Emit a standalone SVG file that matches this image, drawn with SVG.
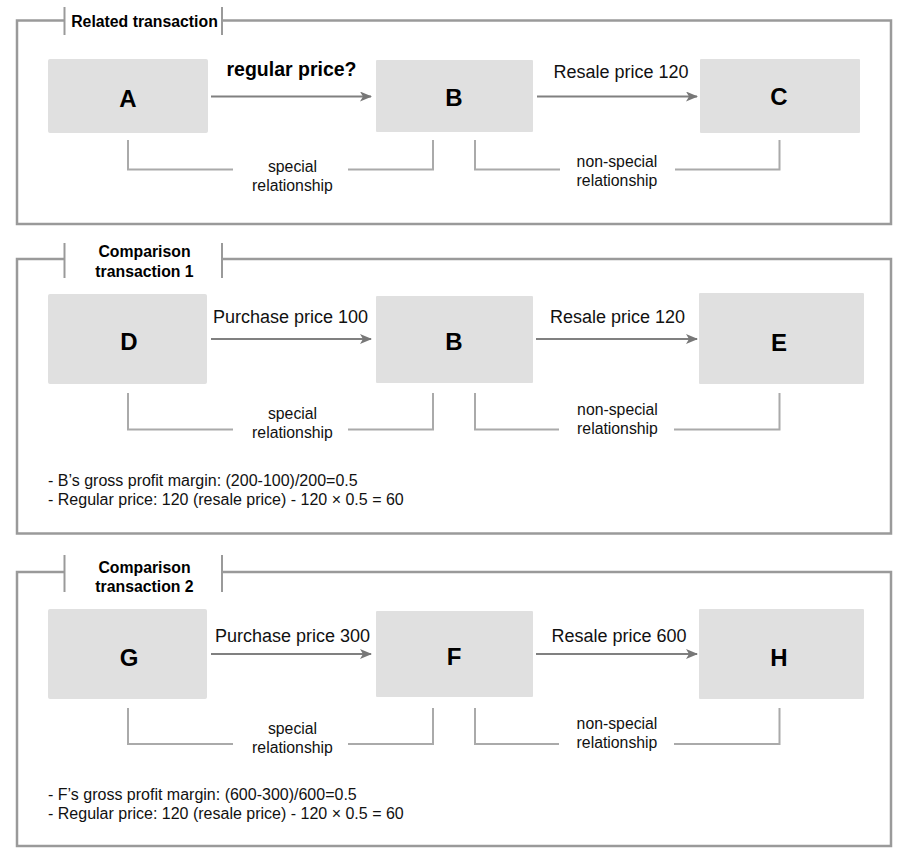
<svg xmlns="http://www.w3.org/2000/svg" width="905" height="855" viewBox="0 0 905 855">
<style>
.frame{fill:none;stroke:#9a9a9a;stroke-width:2.5}
.tick{stroke:#9a9a9a;stroke-width:2}
.box{fill:#e0e0e0}
.lbl{font-family:"Liberation Sans",Arial,sans-serif;font-weight:bold;font-size:24px;fill:#000;text-anchor:middle}
.title{font-family:"Liberation Sans",Arial,sans-serif;font-weight:bold;font-size:15.8px;fill:#000;text-anchor:middle}
.elbl{font-family:"Liberation Sans",Arial,sans-serif;font-size:18px;fill:#111;text-anchor:middle}
.q{font-family:"Liberation Sans",Arial,sans-serif;font-weight:bold;font-size:19.5px;fill:#000;text-anchor:middle}
.rel{font-family:"Liberation Sans",Arial,sans-serif;font-size:15.8px;fill:#111;text-anchor:middle}
.note{font-family:"Liberation Sans",Arial,sans-serif;font-size:16px;fill:#111}
.arr{stroke:#808080;stroke-width:2;fill:none;marker-end:url(#ah)}
.br{stroke:#aaaaaa;stroke-width:2;fill:none}
</style>
<defs>
<marker id="ah" viewBox="0 0 12 10" refX="11" refY="5" markerWidth="12" markerHeight="10" markerUnits="userSpaceOnUse" orient="auto">
<path d="M0,0 L12,5 L0,10 L3,5 Z" fill="#777777"/>
</marker>
</defs>

<!-- Section 1 frame -->
<g id="frame1">
<path class="frame" d="M64,20.5 H17 V224 H891 V20.5 H222"/>
<line class="tick" x1="64.5" y1="7" x2="64.5" y2="35"/>
<line class="tick" x1="222" y1="7" x2="222" y2="35"/>
<text class="title" x="144.5" y="27">Related transaction</text>
</g>
<!-- Section 2 frame -->
<g id="frame2">
<path class="frame" d="M64,259 H17 V533.5 H891 V259 H222"/>
<line class="tick" x1="64.5" y1="243" x2="64.5" y2="278"/>
<line class="tick" x1="222" y1="243" x2="222" y2="278"/>
<text class="title" x="144.5" y="257">Comparison</text>
<text class="title" x="144.5" y="277">transaction 1</text>
</g>
<!-- Section 3 frame -->
<g id="frame3">
<path class="frame" d="M64,572 H17 V846 H891 V572 H222"/>
<line class="tick" x1="64.5" y1="555" x2="64.5" y2="592"/>
<line class="tick" x1="222" y1="555" x2="222" y2="592"/>
<text class="title" x="144.5" y="573">Comparison</text>
<text class="title" x="144.5" y="592">transaction 2</text>
</g>

<!-- Nodes -->
<g id="nodeA"><rect class="box" x="48" y="59" width="160" height="74" rx="2"/><text class="lbl" x="128" y="107">A</text></g>
<g id="nodeB1"><rect class="box" x="376" y="60" width="157" height="72" rx="1"/><text class="lbl" x="454" y="106">B</text></g>
<g id="nodeC"><rect class="box" x="700" y="59" width="160" height="74" rx="1"/><text class="lbl" x="779" y="105">C</text></g>

<g id="nodeD"><rect class="box" x="48" y="294" width="159" height="90" rx="2"/><text class="lbl" x="129" y="350">D</text></g>
<g id="nodeB2"><rect class="box" x="376" y="296" width="157" height="87" rx="1"/><text class="lbl" x="454" y="350">B</text></g>
<g id="nodeE"><rect class="box" x="699" y="293" width="165" height="91" rx="1"/><text class="lbl" x="779" y="351">E</text></g>

<g id="nodeG"><rect class="box" x="48" y="609" width="159" height="90" rx="2"/><text class="lbl" x="129" y="666">G</text></g>
<g id="nodeF"><rect class="box" x="376" y="611" width="157" height="86" rx="1"/><text class="lbl" x="454" y="665">F</text></g>
<g id="nodeH"><rect class="box" x="699" y="609" width="165" height="90" rx="1"/><text class="lbl" x="779" y="666">H</text></g>

<!-- Connectors -->
<g id="connectors">
<line class="arr" x1="211" y1="96.5" x2="371" y2="96.5"/>
<line class="arr" x1="537" y1="96.5" x2="697" y2="96.5"/>
<line class="arr" x1="211" y1="339" x2="371" y2="339"/>
<line class="arr" x1="536" y1="339" x2="697" y2="339"/>
<line class="arr" x1="211" y1="654" x2="371" y2="654"/>
<line class="arr" x1="536" y1="654" x2="697" y2="654"/>

<path class="br" d="M128,140 V169.5 H233 M348,169.5 H433 V140"/>
<path class="br" d="M475,140 V169.5 H560 M675,169.5 H779.5 V140"/>
<path class="br" d="M128,393 V429.5 H233 M348,429.5 H433 V393"/>
<path class="br" d="M475,393 V429.5 H559 M674,429.5 H779.5 V393"/>
<path class="br" d="M128,708 V744 H233 M348,744 H433 V708"/>
<path class="br" d="M475,708 V744 H559 M674,744 H779.5 V708"/>
</g>

<!-- Edge labels -->
<g id="edge-labels">
<text class="q" x="291.5" y="76">regular price?</text>
<text class="elbl" x="621" y="78">Resale price 120</text>
<text class="elbl" x="290.5" y="323">Purchase price 100</text>
<text class="elbl" x="617.5" y="323">Resale price 120</text>
<text class="elbl" x="292.5" y="642">Purchase price 300</text>
<text class="elbl" x="619" y="642">Resale price 600</text>

<text class="rel" x="292.5" y="172">special</text>
<text class="rel" x="292.5" y="191">relationship</text>
<text class="rel" x="617" y="167">non-special</text>
<text class="rel" x="617" y="186">relationship</text>

<text class="rel" x="292.5" y="419">special</text>
<text class="rel" x="292.5" y="438">relationship</text>
<text class="rel" x="617.5" y="415">non-special</text>
<text class="rel" x="617.5" y="434">relationship</text>

<text class="rel" x="292.5" y="734">special</text>
<text class="rel" x="292.5" y="753">relationship</text>
<text class="rel" x="617" y="729">non-special</text>
<text class="rel" x="617" y="748">relationship</text>
</g>

<!-- Notes -->
<g id="notes1">
<text class="note" x="48" y="486">- B’s gross profit margin: (200-100)/200=0.5</text>
<text class="note" x="48" y="505">- Regular price: 120 (resale price) - 120 × 0.5 = 60</text>
</g>
<g id="notes2">
<text class="note" x="48" y="800">- F’s gross profit margin: (600-300)/600=0.5</text>
<text class="note" x="48" y="819">- Regular price: 120 (resale price) - 120 × 0.5 = 60</text>
</g>
</svg>
